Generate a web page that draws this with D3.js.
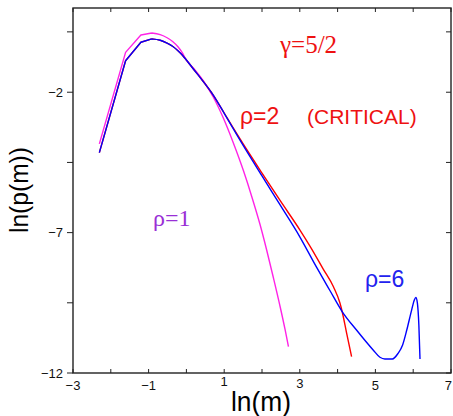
<!DOCTYPE html>
<html>
<head>
<meta charset="utf-8">
<script src="https://cdn.jsdelivr.net/npm/d3@7"></script>
<style>
  html, body { margin: 0; padding: 0; background: #fff; }
  svg { display: block; }
</style>
</head>
<body>
<svg id="chart" width="453" height="416"></svg>
<script>
// ---- data (ln(m), ln(p(m))) ----
const rho1X = [-2.303, -1.609, -1.204, -0.916, -0.693, -0.511, -0.357, -0.223, -0.105, 0.0, 0.2, 0.45, 0.71, 0.98, 1.24, 1.51, 1.73, 1.95, 2.12, 2.30, 2.48, 2.61, 2.70];
const rho1Y = [-3.84, -0.58, 0.04, 0.11, 0.05, -0.06, -0.20, -0.38, -0.60, -0.86, -1.16, -1.60, -2.17, -2.93, -3.80, -4.80, -5.72, -6.72, -7.60, -8.60, -9.64, -10.45, -11.06];

const rho2X = [-2.303, -1.609, -1.204, -0.916, -0.693, -0.511, -0.357, -0.223, -0.105, 0.0, 0.2, 0.36, 0.71, 1.0, 1.25, 1.51, 2.0, 2.5, 3.0, 3.3, 3.62, 3.89, 4.06, 4.12, 4.24, 4.37];
const rho2Y = [-4.15, -0.88, -0.22, -0.10, -0.15, -0.25, -0.37, -0.52, -0.68, -0.85, -1.20, -1.47, -2.10, -2.74, -3.30, -3.86, -4.88, -5.90, -6.90, -7.55, -8.30, -8.93, -9.50, -9.81, -10.59, -11.42];

const rho6X = [-2.303, -1.609, -1.204, -0.916, -0.693, -0.511, -0.357, -0.223, -0.105, 0.0, 0.2, 0.36, 0.71, 1.0, 1.51, 2.0, 2.5, 3.0, 3.45, 3.8, 4.12, 4.5, 4.94, 5.12, 5.25, 5.45, 5.6, 5.72, 5.83, 5.96, 6.03, 6.07, 6.11, 6.15, 6.18];
const rho6Y = [-4.15, -0.88, -0.22, -0.10, -0.15, -0.25, -0.37, -0.52, -0.68, -0.85, -1.20, -1.47, -2.10, -2.75, -3.91, -4.98, -6.06, -7.15, -8.25, -9.07, -9.81, -10.47, -11.18, -11.44, -11.50, -11.50, -11.30, -11.00, -10.47, -9.75, -9.40, -9.31, -9.50, -10.30, -11.50];

const xTickLabels = [-3, -1, 1, 3, 5, 7];
const xMinorTicks = [-3, -2, -1, 0, 1, 2, 3, 4, 5, 6, 7];
const yTickLabels = [-12, -7, -2];
const yMinorTicks = [-12, -9.5, -7, -4.5, -2, 0.15];

// ---- layout ----
const svg = d3.select("#chart");
const mLeft = 73, mRight = 451, mTop = 8, mBottom = 373;
const x = d3.scaleLinear().domain([-3, 7]).range([mLeft, mRight]);
const y = d3.scaleLinear().domain([-12, 1]).range([mBottom, mTop]);

const axisColor = "#222";
const sans = "'Liberation Sans', Arial, Helvetica, sans-serif";
const serif = "'Liberation Serif', 'Times New Roman', serif";

// frame
svg.append("rect")
  .attr("x", mLeft).attr("y", mTop)
  .attr("width", mRight - mLeft).attr("height", mBottom - mTop)
  .attr("fill", "none").attr("stroke", axisColor).attr("stroke-width", 1.4);

// ticks: bottom (inward), top (inward)
svg.append("g").selectAll("line").data(xMinorTicks).join("line")
  .attr("x1", d => x(d)).attr("x2", d => x(d))
  .attr("y1", mBottom).attr("y2", mBottom - 4)
  .attr("stroke", axisColor).attr("stroke-width", 1);
svg.append("g").selectAll("line").data(xMinorTicks).join("line")
  .attr("x1", d => x(d)).attr("x2", d => x(d))
  .attr("y1", mTop).attr("y2", mTop + 4)
  .attr("stroke", axisColor).attr("stroke-width", 1);
// left (outward), right (inward)
svg.append("g").selectAll("line").data(yMinorTicks).join("line")
  .attr("x1", mLeft - 6).attr("x2", mLeft)
  .attr("y1", d => y(d)).attr("y2", d => y(d))
  .attr("stroke", axisColor).attr("stroke-width", 1);
svg.append("g").selectAll("line").data(yMinorTicks).join("line")
  .attr("x1", mRight - 5).attr("x2", mRight)
  .attr("y1", d => y(d)).attr("y2", d => y(d))
  .attr("stroke", axisColor).attr("stroke-width", 1);

const fmt = d => (d < 0 ? "\u2212" + Math.abs(d) : String(d));

// x tick labels
const xMax = d3.max(xTickLabels);
svg.append("g").selectAll("text").data(xTickLabels).join("text")
  .attr("x", d => d === xMax ? x(d) + 1 : x(d))
  .attr("y", d => 390 + (d === 1 ? -4 : d === 3 ? -2 : 0))
  .attr("text-anchor", d => d === xMax ? "end" : "middle")
  .attr("font-family", sans).attr("font-size", 13).attr("fill", "#111")
  .text(fmt);

// y tick labels
svg.append("g").selectAll("text").data(yTickLabels).join("text")
  .attr("x", 63)
  .attr("y", d => y(d))
  .attr("dy", "0.35em")
  .attr("text-anchor", "end")
  .attr("font-family", sans).attr("font-size", 13).attr("fill", "#111")
  .text(fmt);

// axis titles
svg.append("text")
  .attr("x", 261).attr("y", 411)
  .attr("text-anchor", "middle")
  .attr("font-family", sans).attr("font-size", 28).attr("fill", "#000")
  .attr("textLength", 60).attr("lengthAdjust", "spacingAndGlyphs")
  .text("ln(m)");
svg.append("text")
  .attr("transform", "translate(28,190) rotate(-90)")
  .attr("text-anchor", "middle")
  .attr("font-family", sans).attr("font-size", 26).attr("fill", "#000")
  .attr("textLength", 86).attr("lengthAdjust", "spacingAndGlyphs")
  .text("ln(p(m))");

// curves: coarse low-m bins drawn as straight segments, the rest smooth
const splitX = -0.916;
const lineLin = d3.line().x(d => x(d[0])).y(d => y(d[1]));
const lineSmooth = d3.line().x(d => x(d[0])).y(d => y(d[1])).curve(d3.curveMonotoneX);
const series = [
  { xs: rho1X, ys: rho1Y, color: "#ff22e6" },
  { xs: rho2X, ys: rho2Y, color: "#ff0000" },
  { xs: rho6X, ys: rho6Y, color: "#0000ff" }
];
const pathD = s => {
  const pts = s.xs.map((v, i) => [v, s.ys[i]]);
  const a = pts.filter(p => p[0] <= splitX);
  const b = pts.filter(p => p[0] >= splitX);
  return lineLin(a) + lineSmooth(b);
};
svg.append("g").selectAll("path").data(series).join("path")
  .attr("d", pathD)
  .attr("fill", "none")
  .attr("stroke", s => s.color)
  .attr("stroke-width", 1.4)
  .attr("stroke-linejoin", "round");

// annotations
const ann = svg.append("g");
ann.append("text").attr("x", 280).attr("y", 53)
  .attr("font-family", serif).attr("font-size", 25).attr("fill", "#ee1111")
  .text("\u03b3=5/2");
ann.append("text").attr("x", 240).attr("y", 124)
  .attr("font-family", sans).attr("font-size", 23).attr("fill", "#ee1111")
  .text("\u03c1=2");
ann.append("text").attr("x", 307).attr("y", 124)
  .attr("font-family", sans).attr("font-size", 21).attr("fill", "#ee1111")
  .text("(CRITICAL)");
ann.append("text").attr("x", 153).attr("y", 226)
  .attr("font-family", serif).attr("font-size", 24).attr("fill", "#9a2fd6")
  .text("\u03c1=1");
ann.append("text").attr("x", 365).attr("y", 287)
  .attr("font-family", sans).attr("font-size", 23).attr("fill", "#2222ee")
  .text("\u03c1=6");
</script>
</body>
</html>
